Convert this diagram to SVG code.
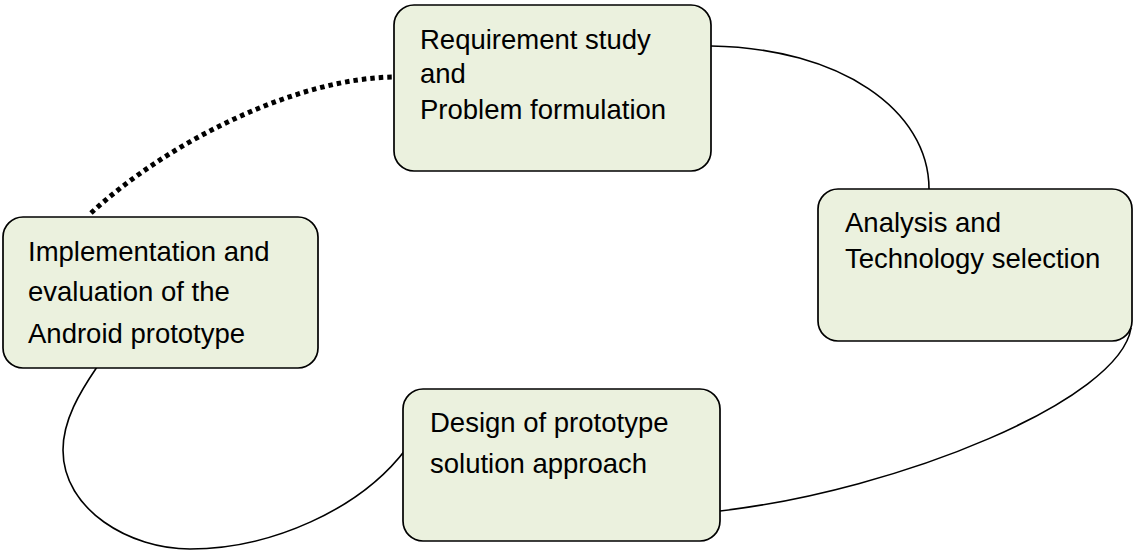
<svg xmlns="http://www.w3.org/2000/svg" width="1133" height="550" viewBox="0 0 1133 550">
<style>
.box{fill:#EBF1DE;stroke:#000;stroke-width:1.7}
.lbl{font-family:"Liberation Sans",Arial,sans-serif;font-size:27.5px;fill:#000}
.conn{fill:none;stroke:#000;stroke-width:1.6}
.dot{fill:none;stroke:#000;stroke-width:5;stroke-dasharray:4.5 4}
</style>
<rect width="1133" height="550" fill="#fff"/>
<g id="connectors">
<path class="conn" d="M711,46 C840,48 929,110 929,189"/>
<path class="conn" d="M1131,328 C1120,400 900,490 720,511"/>
<path class="conn" d="M97,367 C80,392 63,420 63,450 C63,510 130,549 190,549 C270,549 360,510 406,449"/>
<path class="dot" d="M91,213 C170,140 300,77 396,77"/>
</g>
<g id="node-requirement">
<rect class="box" x="394" y="5" width="317" height="166" rx="20"/>
<text class="lbl" x="420" y="49">Requirement study</text>
<text class="lbl" x="420" y="83">and</text>
<text class="lbl" x="420" y="119">Problem formulation</text>
</g>
<g id="node-analysis">
<rect class="box" x="818" y="189" width="314" height="152" rx="20"/>
<text class="lbl" x="845" y="232">Analysis and</text>
<text class="lbl" x="845" y="268">Technology selection</text>
</g>
<g id="node-implementation">
<rect class="box" x="3" y="217" width="315" height="151" rx="20"/>
<text class="lbl" x="28" y="261">Implementation and</text>
<text class="lbl" x="28" y="301">evaluation of the</text>
<text class="lbl" x="28" y="343">Android prototype</text>
</g>
<g id="node-design">
<rect class="box" x="403" y="389" width="317" height="152" rx="20"/>
<text class="lbl" x="430" y="432">Design of prototype</text>
<text class="lbl" x="430" y="473">solution approach</text>
</g>
</svg>
